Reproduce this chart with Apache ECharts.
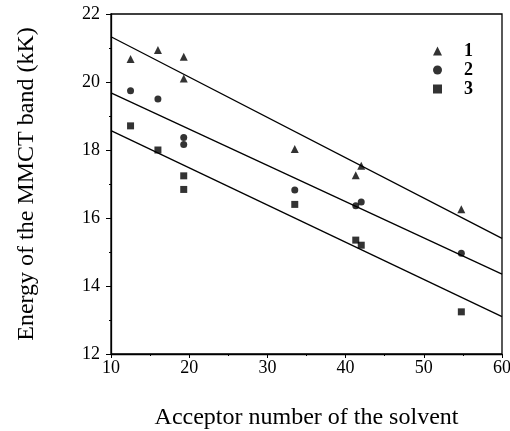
<!DOCTYPE html>
<html>
<head>
<meta charset="utf-8">
<script src="https://cdn.jsdelivr.net/npm/echarts@6/dist/echarts.min.js"></script>
<style>html,body{margin:0;padding:0;background:#fff;}#c{width:510px;height:431px;}</style>
</head>
<body>
<div id="c"></div>
<script>
var acceptor = [12.5, 16.0, 19.3, 19.3, 33.5, 41.3, 42.0, 54.8];
var series1 = [20.68, 20.94, 20.74, 20.10, 18.03, 17.26, 17.54, 16.26];
var series2 = [19.74, 19.50, 18.37, 18.16, 16.82, 16.36, 16.47, 14.96];
var series3 = [18.71, 18.00, 17.24, 16.84, 16.40, 15.35, 15.20, 13.24];
var fitX = [10, 60];
var fit1 = [21.33, 15.40];
var fit2 = [19.68, 14.35];
var fit3 = [18.57, 13.10];
var legendNames = ['1', '2', '3'];
var xTitle = 'Acceptor number of the solvent';
var yTitle = 'Energy of the MMCT band (kK)';

function pairs(xs, ys) { return xs.map(function (x, i) { return [x, ys[i]]; }); }

var font = 'Liberation Serif';
var chart = echarts.init(document.getElementById('c'));
var fitStyle = { type: 'line', symbol: 'none', silent: true, lineStyle: { color: '#000', width: 1.3 }, z: 1 };
chart.setOption({
  animation: false,
  backgroundColor: '#fff',
  grid: { left: 111, right: 8, top: 14, bottom: 77, show: true, borderColor: '#000', borderWidth: 1.3, outerBoundsMode: 'none', containLabel: false },
  legend: {
    orient: 'vertical', left: 428, top: 37, itemWidth: 9, itemHeight: 9, itemGap: 1,
    data: legendNames,
    textStyle: { fontFamily: font, fontWeight: 'bold', fontSize: 18, color: '#000', padding: [0, 0, 0, 17] }
  },
  xAxis: {
    type: 'value', min: 10, max: 60, interval: 10,
    name: xTitle, nameLocation: 'middle', nameGap: 52,
    nameTextStyle: { fontFamily: font, fontSize: 24, color: '#000' },
    axisLine: { show: true, lineStyle: { color: '#000', width: 1.3 } },
    axisTick: { show: true, inside: false, length: 4, lineStyle: { color: '#000' } },
    minorTick: { show: true, splitNumber: 2, length: 2, lineStyle: { color: '#000' } },
    splitLine: { show: false },
    axisLabel: { fontFamily: font, fontSize: 18, color: '#000', margin: 5 }
  },
  yAxis: {
    type: 'value', min: 12, max: 22, interval: 2,
    name: yTitle, nameLocation: 'middle', nameGap: 72,
    nameTextStyle: { fontFamily: font, fontSize: 24, color: '#000' },
    axisLine: { show: true, lineStyle: { color: '#000', width: 1.3 } },
    axisTick: { show: true, inside: false, length: 5, lineStyle: { color: '#000' } },
    minorTick: { show: true, splitNumber: 2, length: 2, lineStyle: { color: '#000' } },
    splitLine: { show: false },
    axisLabel: { fontFamily: font, fontSize: 18, color: '#000', margin: 11 }
  },
  series: [
    Object.assign({ name: 'fit1', data: pairs(fitX, fit1) }, fitStyle),
    Object.assign({ name: 'fit2', data: pairs(fitX, fit2) }, fitStyle),
    Object.assign({ name: 'fit3', data: pairs(fitX, fit3) }, fitStyle),
    { name: legendNames[0], type: 'scatter', symbol: 'triangle', symbolSize: 8, itemStyle: { color: '#000' }, data: pairs(acceptor, series1), z: 3 },
    { name: legendNames[1], type: 'scatter', symbol: 'circle', symbolSize: 7, itemStyle: { color: '#000' }, data: pairs(acceptor, series2), z: 3 },
    { name: legendNames[2], type: 'scatter', symbol: 'rect', symbolSize: 7, itemStyle: { color: '#000' }, data: pairs(acceptor, series3), z: 3 }
  ]
});
</script>
</body>
</html>
